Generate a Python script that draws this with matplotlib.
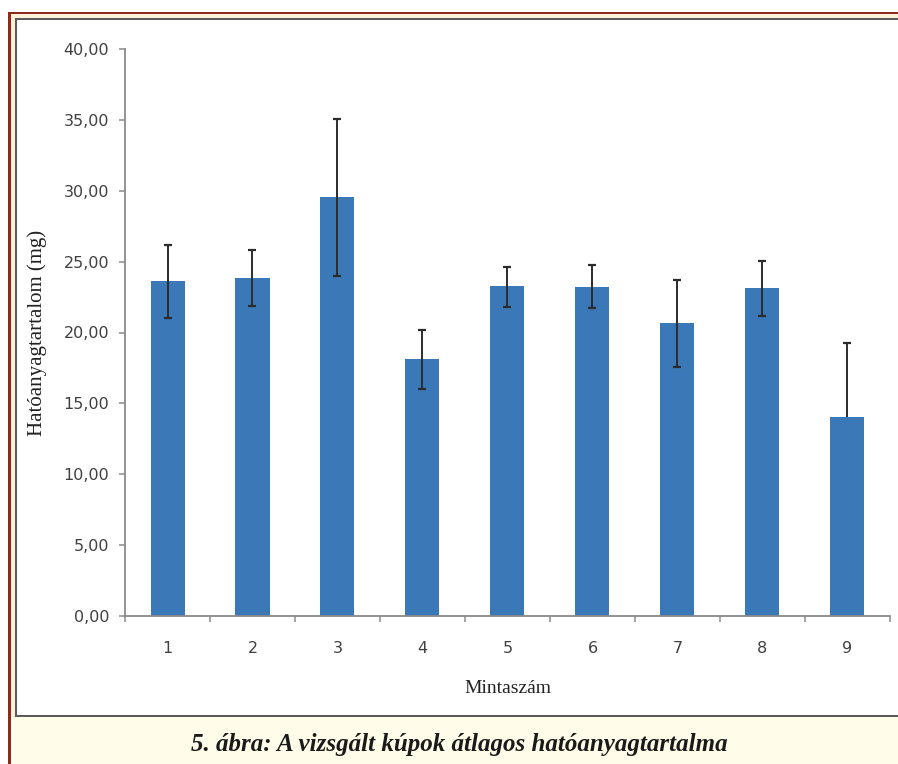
import numpy as np
import matplotlib.pyplot as plt
from matplotlib.patches import Rectangle

W, H = 898, 764

samples = ['1', '2', '3', '4', '5', '6', '7', '8', '9']
means = [23.65, 23.85, 29.55, 18.1, 23.25, 23.2, 20.65, 23.15, 14.05]
err_low = [2.6, 2.0, 5.55, 2.1, 1.45, 1.45, 3.1, 2.0, 0.0]
err_high = [2.5, 2.0, 5.5, 2.05, 1.35, 1.55, 3.05, 1.9, 5.2]
y_ticks = [0, 5, 10, 15, 20, 25, 30, 35, 40]
y_labels = ['%.2f' % v for v in y_ticks]
y_labels = [s.replace('.', ',') for s in y_labels]

BAR = '#3a78b7'
ERR = '#2b2b2b'


def px_rect(fig, x0, y0, x1, y1, color, z):
	# pixel box (top-left origin) -> figure fraction
	r = Rectangle((x0 / W, 1 - y1 / H), (x1 - x0) / W, (y1 - y0) / H,
		transform=fig.transFigure, facecolor=color, edgecolor='none', zorder=z)
	fig.add_artist(r)


fig = plt.figure(figsize=(W / 100, H / 100), dpi=100)
fig.patch.set_facecolor('white')

# frame around the figure
px_rect(fig, 8, 12, W, H, '#8e2a1d', -10)
px_rect(fig, 11, 14, W, H, '#fcf0d6', -9)
px_rect(fig, 15, 18, W, 717, '#5a5a5a', -8)
px_rect(fig, 17, 20, W, 715, 'white', -7)
px_rect(fig, 11, 717, W, H, '#fffde9', -6)

ax = fig.add_axes([125 / W, 1 - 616 / H, (890 - 125) / W, (616 - 49) / H])
ax.set_facecolor('none')

x = np.arange(1, len(samples) + 1)
m = np.array(means)
lo = m - np.array(err_low)
hi = m + np.array(err_high)
ax.bar(x, means, width=0.40, color=BAR, zorder=2)

# error bars by hand so a zero lower error gets no cap
ax.vlines(x, lo, hi, color=ERR, linewidth=1.4, zorder=3)
has_lo = np.array(err_low) > 0
ax.plot(x[has_lo], lo[has_lo], ls='none', marker='_', ms=6, mew=1.6, color=ERR, zorder=3)
ax.plot(x, hi, ls='none', marker='_', ms=6, mew=1.6, color=ERR, zorder=3)

ax.set_xlim(0.5, 9.5)
ax.set_ylim(0, 40)

ax.set_yticks(y_ticks)
ax.set_yticklabels(y_labels)
ax.set_xticks(x)
ax.set_xticklabels(samples)
ax.set_xticks(np.arange(0.5, 10, 1), minor=True)

for s in ['top', 'right']:
	ax.spines[s].set_visible(False)
for s in ['left', 'bottom']:
	ax.spines[s].set_color('#8a8a8a')
	ax.spines[s].set_linewidth(1.3)

ax.tick_params(axis='y', direction='out', length=4.5, width=1.1, color='#8a8a8a',
	pad=7, labelsize=11.5, labelcolor='#404040')
ax.tick_params(axis='x', which='major', length=0, pad=18, labelsize=11.5, labelcolor='#404040')
ax.tick_params(axis='x', which='minor', direction='out', length=4, width=1.1, color='#8a8a8a')

ax.set_xlabel('Mintaszám', family='Liberation Serif', fontsize=14, color='#222222', labelpad=17)
ax.set_ylabel('Hatóanyagtartalom (mg)', family='Liberation Serif', fontsize=15,
	color='#222222', labelpad=12)

fig.text(459 / W, 1 - 744 / H, '5. ábra: A vizsgált kúpok átlagos hatóanyagtartalma',
	family='Liberation Serif', fontsize=18, fontweight='bold', fontstyle='italic',
	ha='center', va='center', color='#1a1a1a')

fig.savefig('out.png', dpi=100)
